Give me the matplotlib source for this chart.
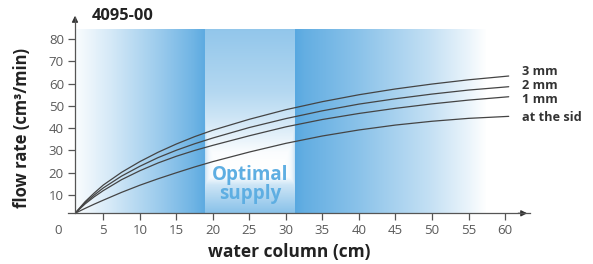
import numpy as np
import matplotlib
matplotlib.use("Agg")
import matplotlib.pyplot as plt

# valori
water_cm = [1.12, 2.5, 3.75, 5, 7.5, 10, 12.5, 15, 17.5, 20, 25, 30, 35, 40, 45, 50, 55, 60.5]
flow_3mm = [1.8, 7.0, 10.9, 14.5, 20.2, 25.0, 29.2, 32.9, 36.2, 39.1, 44.0, 48.3, 51.9, 55.0, 57.6, 59.8, 61.7, 63.4]
flow_2mm = [1.8, 6.5, 10.0, 13.2, 18.5, 22.9, 26.8, 30.1, 33.0, 35.6, 40.3, 44.3, 47.8, 50.8, 53.2, 55.3, 57.1, 58.6]
flow_1mm = [1.8, 6.0, 9.2, 12.0, 16.9, 20.9, 24.4, 27.4, 30.0, 32.3, 36.6, 40.6, 43.9, 46.6, 48.9, 50.9, 52.6, 54.1]
flow_side = [1.8, 4.0, 5.9, 7.7, 11.2, 14.4, 17.3, 20.0, 22.6, 25.0, 29.3, 33.2, 36.5, 39.2, 41.4, 43.1, 44.4, 45.3]
serie = [flow_3mm, flow_2mm, flow_1mm, flow_side]
etichette = ["3 mm", "2 mm", "1 mm", "at the sid"]
x_ticks = [5, 10, 15, 20, 25, 30, 35, 40, 45, 50, 55, 60]
y_ticks = [10, 20, 30, 40, 50, 60, 70, 80]

plt.rcParams['font.family'] = ['Open Sans', 'DejaVu Sans']

W, H = 593, 264
fig = plt.figure(figsize=(W / 100, H / 100), dpi=100)

def fx(px):
    return px / W

def fy(py):
    return 1 - py / H

# assi: origine in (75, 213.3) pixel
ax = fig.add_axes([fx(75), fy(213.3), (530 - 75) / W, (213.3 - 13) / H])
x0, x1 = 1.12, 1.12 + 455 / 7.304
y0, y1 = 1.8, 1.8 + 200.3 / 2.2286
ax.set_xlim(x0, x1)
ax.set_ylim(y0, y1)
for s in ax.spines.values():
    s.set_visible(False)
ax.patch.set_alpha(0)

# sfondo sfumato blu
blu = np.array([88, 168, 224]) / 255
gx0, gx1 = x0, 1.12 + 412 / 7.304
gy0, gy1 = y0, 1.8 + 183.3 / 2.2286
nx, ny = 412, 184
px = np.linspace(75, 487, nx)
py = np.linspace(30, 213.3, ny)
PX, PY = np.meshgrid(px, py)
t = np.zeros_like(PX)
left = PX < 205
u = (PX - 75) / 130
t[left] = np.interp(u[left], [0, 0.27, 0.65, 0.9, 1], [0.03, 0.25, 0.6, 0.85, 0.97])
right = PX >= 295
v = (PX - 295) / 192
t[right] = np.interp(v[right], [0, 0.05, 0.33, 0.71, 0.9, 1], [1, 0.93, 0.7, 0.35, 0.13, 0])
band = (~left) & (~right)
w = (PY - 30) / 183.3
tv = np.interp(w, [0, 0.34, 0.52, 0.67, 0.73, 0.8, 0.85, 0.96, 1], [0.65, 0.45, 0.25, 0.03, 0, 0, 0.3, 0.6, 0.7])
d = np.minimum(PX - 205, 295 - PX)
edge = 0.35 * np.exp(-np.clip(d, 0, None) / 3.0)
t[band] = np.maximum(tv[band], edge[band])
img = 1 - t[..., None] * (1 - blu)
ax.imshow(img, extent=[gx0, gx1, gy0, gy1], origin='upper', aspect='auto',
          interpolation='bilinear', zorder=0)

# curve
for y in serie:
    ax.plot(water_cm, y, color='#444444', lw=0.9, zorder=3, solid_capstyle='round',
            solid_joinstyle='round')

# testo "Optimal supply"
ax.text(25.05, 1.8 + (213.3 - 175) / 2.2286, "Optimal", color='#5eaee2', fontsize=13.5,
        fontweight='bold', ha='center', va='center', zorder=2)
ax.text(25.05, 1.8 + (213.3 - 194) / 2.2286, "supply", color='#5eaee2', fontsize=13.5,
        fontweight='bold', ha='center', va='center', zorder=2)

# assi con frecce
ax.plot([0.15, x1], [y0, y0], color='#555555', lw=0.9, clip_on=False, zorder=4)
ax.annotate('', xy=(x1, y0), xytext=(x1 - 2, y0), xycoords='data',
            arrowprops=dict(arrowstyle='-|>', color='#333333', lw=0.9, mutation_scale=9),
            annotation_clip=False)
ax.annotate('', xy=(x0, y1), xytext=(x0, y1 - 5), xycoords='data',
            arrowprops=dict(arrowstyle='-|>', color='#333333', lw=0.9, mutation_scale=9),
            annotation_clip=False)
ax.plot([x0, x0], [y0, y1 - 2], color='#555555', lw=0.9, clip_on=False, zorder=4)

ax.set_xticks(x_ticks)
ax.set_yticks(y_ticks)
ax.tick_params(direction='out', length=5, width=0.9, color='#555555',
               labelcolor='#5a5a5a', labelsize=9.5, pad=3)
fig.text(fx(58.3), fy(231), "0", color='#5a5a5a', fontsize=9.5, ha='center', va='center')

# etichette curve
for lab, yy in zip(etichette, [71.7, 85.7, 99.3, 117.3]):
    fig.text(fx(522), fy(yy), lab, color='#333333', fontsize=9.2, fontweight='bold',
             ha='left', va='center')

fig.text(fx(92), fy(16), "4095-00", color='#222222', fontsize=11.8, fontweight='bold',
         ha='left', va='center')
fig.text(fx(22), fy(128), "flow rate (cm³/min)", color='#222222', fontsize=12,
         fontweight='bold', rotation=90, ha='center', va='center')
fig.text(fx(289), fy(252), "water column (cm)", color='#222222', fontsize=12.5,
         fontweight='bold', ha='center', va='center')

plt.savefig("out.png", dpi=100)
